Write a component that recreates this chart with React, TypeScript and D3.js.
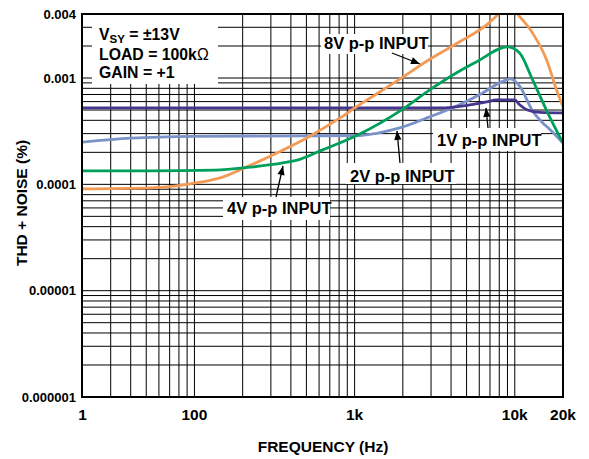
import React from 'react';
import * as d3 from 'd3';

const W = 589;
const H = 459;
const PLOT = { left: 82.5, right: 563, top: 14, bottom: 397 };

// axis ticks
const xTickValues = [20, 100, 1000, 10000, 20000];
const xTickLabels = ['1', '100', '1k', '10k', '20k'];
const yTickValues = [0.000001, 0.00001, 0.0001, 0.001, 0.004];
const yTickLabels = ['0.000001', '0.00001', '0.0001', '0.001', '0.004'];

// 8V p-p INPUT (orange)
const freq8V = [20, 53, 102, 150, 212, 308, 502, 807, 1030, 1244, 2000, 2944, 4529, 6670, 8044, 9200, 10260, 12920, 15800, 18240, 20000];
const thd8V = [9.05e-5, 9.25e-5, 1.03e-4, 1.17e-4, 1.46e-4, 1.89e-4, 2.73e-4, 4.19e-4, 5.38e-4, 6.45e-4, 1.02e-3, 1.5e-3, 2.19e-3, 3.16e-3, 4.09e-3, 5.0e-3, 4.09e-3, 2.65e-3, 1.48e-3, 7.73e-4, 5.35e-4];

// 4V p-p INPUT (green)
const freq4V = [20, 53, 134, 222, 356, 455, 632, 1030, 2000, 2944, 4336, 5780, 9020, 10720, 12920, 16500, 20000];
const thd4V = [1.34e-4, 1.34e-4, 1.36e-4, 1.45e-4, 1.59e-4, 1.72e-4, 2.11e-4, 2.88e-4, 5.1e-4, 7.73e-4, 1.12e-3, 1.42e-3, 1.96e-3, 1.72e-3, 9.6e-4, 4.31e-4, 2.45e-4];

// 2V p-p INPUT (light blue)
const freq2V = [20, 40, 100, 455, 1076, 1374, 1912, 2944, 4336, 6300, 8396, 9400, 10720, 12920, 14920, 16500, 20000];
const thd2V = [2.5e-4, 2.72e-4, 2.83e-4, 2.86e-4, 2.88e-4, 3.02e-4, 3.39e-4, 4.31e-4, 5.46e-4, 7.24e-4, 9.3e-4, 9.8e-4, 8.4e-4, 4.9e-4, 3.8e-4, 3.3e-4, 2.45e-4];

// 1V p-p INPUT (dark purple)
const freq1V = [20, 1000, 3398, 5227, 6670, 7710, 9980, 10720, 12000, 14290, 20000];
const thd1V = [5.23e-4, 5.23e-4, 5.23e-4, 5.58e-4, 5.95e-4, 6.22e-4, 6.22e-4, 5.6e-4, 5.0e-4, 4.75e-4, 4.7e-4];

const series = [
  { name: '2V', freq: freq2V, thd: thd2V, color: '#7B92C8' },
  { name: '1V', freq: freq1V, thd: thd1V, color: '#46358F' },
  { name: '8V', freq: freq8V, thd: thd8V, color: '#F39A55' },
  { name: '4V', freq: freq4V, thd: thd4V, color: '#00A05C' },
];

// annotation layout (pixels)
const labels = [
  { text: '8V p-p INPUT', x: 324, y: 48.5, box: [321, 34, 107, 20], tail: [392, 53], tip: [420, 64] },
  { text: '1V p-p INPUT', x: 437, y: 145.5, box: [433, 128, 108, 23], tail: [488, 128], tip: [486, 108] },
  { text: '2V p-p INPUT', x: 350, y: 181.5, box: [346, 163, 110, 21], tail: [400, 163], tip: [397, 131] },
  { text: '4V p-p INPUT', x: 227, y: 213.5, box: [223, 197, 107, 23], tail: [276, 197], tip: [283, 166] },
];

const FONT = '"Liberation Sans", Arial, Helvetica, sans-serif';

function arrowHead(tail: number[], tip: number[]) {
  const dx = tip[0] - tail[0];
  const dy = tip[1] - tail[1];
  const len = Math.sqrt(dx * dx + dy * dy);
  const ux = dx / len;
  const uy = dy / len;
  const L = 9;
  const Wd = 3.6;
  const bx = tip[0] - ux * L;
  const by = tip[1] - uy * L;
  return `M${tip[0]},${tip[1]} L${bx - uy * Wd},${by + ux * Wd} L${bx + uy * Wd},${by - ux * Wd} Z`;
}

export default function App() {
  const x = d3.scaleLog().domain([20, 20000]).range([PLOT.left, PLOT.right]);
  const y = d3.scaleLog().domain([0.000001, 0.004]).range([PLOT.bottom, PLOT.top]);

  const xGrid = x.ticks().filter((t) => t > 20 && t < 20000);
  const yGrid = y.ticks().filter((t) => t > 0.0000011 && t < 0.0039);

  const line = d3
    .line<[number, number]>()
    .x((d) => x(d[0]))
    .y((d) => y(d[1]))
    .curve(d3.curveMonotoneX);

  return (
    <svg
      width={W}
      height={H}
      style={{ position: 'absolute', left: 0, top: 0, background: '#fff' }}
      fontFamily={FONT}
      fontWeight="bold"
    >
      <defs>
        <clipPath id="plotClip">
          <rect x={PLOT.left} y={PLOT.top} width={PLOT.right - PLOT.left} height={PLOT.bottom - PLOT.top} />
        </clipPath>
      </defs>
      <rect x={0} y={0} width={W} height={H} fill="#fff" />

      {/* grid */}
      <g stroke="#000" strokeWidth={1}>
        {xGrid.map((t) => (
          <line key={'gx' + t} x1={x(t)} x2={x(t)} y1={PLOT.top} y2={PLOT.bottom} />
        ))}
        {yGrid.map((t) => (
          <line key={'gy' + t} x1={PLOT.left} x2={PLOT.right} y1={y(t)} y2={y(t)} />
        ))}
      </g>

      {/* white boxes */}
      <rect x={92} y={15} width={126} height={69} fill="#fff" />
      {labels.map((l) => (
        <rect key={'b' + l.text} x={l.box[0]} y={l.box[1]} width={l.box[2]} height={l.box[3]} fill="#fff" />
      ))}

      {/* curves */}
      <g clipPath="url(#plotClip)" fill="none" strokeLinejoin="round" strokeLinecap="round">
        {series.map((s) => (
          <path
            key={s.name}
            d={line(s.freq.map((f, i) => [f, s.thd[i]] as [number, number])) || ''}
            stroke={s.color}
            strokeWidth={2.8}
          />
        ))}
      </g>

      {/* frame */}
      <rect
        x={PLOT.left - 0.5}
        y={PLOT.top}
        width={PLOT.right - PLOT.left + 0.5}
        height={PLOT.bottom - PLOT.top}
        fill="none"
        stroke="#000"
        strokeWidth={2}
      />

      {/* y tick labels */}
      {yTickValues.map((t, i) => (
        <text key={'yl' + t} x={76} y={y(t)} dy="0.36em" textAnchor="end" fontSize={13} fill="#000">
          {yTickLabels[i]}
        </text>
      ))}
      {/* x tick labels */}
      {xTickValues.map((t, i) => (
        <text key={'xl' + t} x={x(t)} y={420} textAnchor="middle" fontSize={15.5} fill="#000">
          {xTickLabels[i]}
        </text>
      ))}

      {/* axis titles */}
      <text x={323} y={452} textAnchor="middle" fontSize={15.5} fill="#000">
        FREQUENCY (Hz)
      </text>
      <text transform="translate(27,203) rotate(-90)" textAnchor="middle" fontSize={15.5} fill="#000">
        THD + NOISE (%)
      </text>

      {/* condition box */}
      <text x={99} y={40} fontSize={15.8} fill="#000">
        V<tspan fontSize={11.5} dy={3}>SY</tspan>
        <tspan dy={-3}> = ±13V</tspan>
      </text>
      <text x={99} y={59.5} fontSize={15.8} fill="#000">
        LOAD = 100k<tspan fontWeight="normal">Ω</tspan>
      </text>
      <text x={99} y={78} fontSize={15.8} fill="#000">
        GAIN = +1
      </text>

      {/* annotations */}
      {labels.map((l) => (
        <g key={'a' + l.text}>
          <text x={l.x} y={l.y} fontSize={16.5} fill="#000">
            {l.text}
          </text>
          <line x1={l.tail[0]} y1={l.tail[1]} x2={l.tip[0]} y2={l.tip[1]} stroke="#000" strokeWidth={1.3} />
          <path d={arrowHead(l.tail, l.tip)} fill="#000" />
        </g>
      ))}
    </svg>
  );
}
